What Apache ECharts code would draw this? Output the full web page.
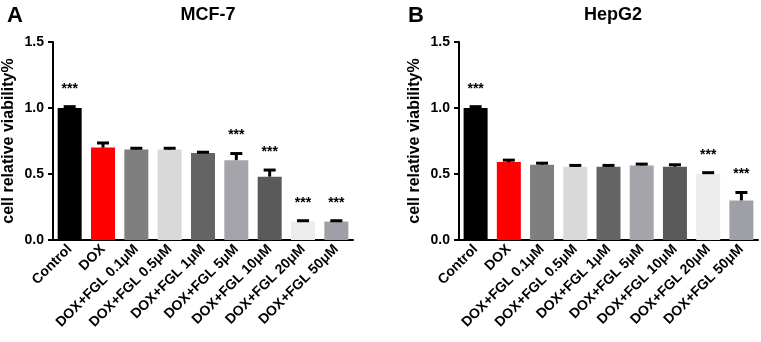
<!DOCTYPE html>
<html>
<head>
<meta charset="utf-8">
<script src="https://cdn.jsdelivr.net/npm/echarts@6/dist/echarts.min.js"></script>
<style>
  html, body { margin: 0; padding: 0; background: #fff; }
  #chart { width: 761px; height: 342px; }
</style>
</head>
<body>
<div id="chart"></div>
<script>
// categories shared by both panels
const categories = ['Control', 'DOX', 'DOX+FGL 0.1μM', 'DOX+FGL 0.5μM', 'DOX+FGL 1μM',
    'DOX+FGL 5μM', 'DOX+FGL 10μM', 'DOX+FGL 20μM', 'DOX+FGL 50μM'];

// MCF-7 panel
const mcfValues = [1.00, 0.70, 0.685, 0.685, 0.66, 0.605, 0.48, 0.14, 0.14];
const mcfErrors = [0.01, 0.035, 0.01, 0.01, 0.005, 0.05, 0.05, 0.006, 0.006];
const mcfStars = ['***', '', '', '', '', '***', '***', '***', '***'];

// HepG2 panel
const hepValues = [1.00, 0.59, 0.57, 0.555, 0.555, 0.565, 0.555, 0.50, 0.30];
const hepErrors = [0.01, 0.015, 0.012, 0.01, 0.01, 0.01, 0.015, 0.01, 0.06];
const hepStars = ['***', '', '', '', '', '', '', '***', '***'];

const barColors = ['#000000', '#ff0000', '#7f7f7f', '#d9d9d9', '#646464',
    '#a4a4aa', '#5a5a5a', '#ececec', '#9f9fa7'];

const yMin = 0, yMax = 1.5, yStep = 0.5;

const fontFamily = '"Liberation Sans", Arial, sans-serif';

const chart = echarts.init(document.getElementById('chart'));

// error bar (upper half only) + significance stars
function errorBar(params, api) {
    const idx = api.value(0);
    const v = api.value(1);
    const e = api.value(2);
    const star = params.seriesIndex === 1 ? mcfStars[idx] : hepStars[idx];
    const base = api.coord([idx, v]);
    const top = api.coord([idx, v + e]);
    const children = [
        {type: 'line', shape: {x1: base[0], y1: base[1], x2: top[0], y2: top[1]},
            style: {stroke: '#000', lineWidth: 3}},
        {type: 'line', shape: {x1: top[0] - 6, y1: top[1], x2: top[0] + 6, y2: top[1]},
            style: {stroke: '#000', lineWidth: 3}}
    ];
    if (star) {
        children.push({
            type: 'text',
            style: {
                text: star, x: top[0], y: top[1] - 18, align: 'center', verticalAlign: 'middle',
                fill: '#000', font: 'bold 14px ' + fontFamily
            }
        });
    }
    return {type: 'group', children: children};
}

function barData(values) {
    return values.map((v, i) => ({value: v, itemStyle: {color: barColors[i]}}));
}

function errData(values, errors) {
    return values.map((v, i) => [i, v, errors[i]]);
}

function xAxisFor(gridIndex) {
    return {
        type: 'category',
        gridIndex: gridIndex,
        data: categories,
        axisLine: {lineStyle: {color: '#000', width: 2}},
        axisTick: {alignWithLabel: true, length: 5, lineStyle: {color: '#000', width: 2}},
        axisLabel: {
            rotate: 45, interval: 0, margin: 7, color: '#000',
            fontSize: 14, fontWeight: 'bold', fontFamily: fontFamily
        }
    };
}

function yAxisFor(gridIndex) {
    return {
        type: 'value',
        gridIndex: gridIndex,
        min: yMin, max: yMax, interval: yStep,
        name: 'cell relative viability%',
        nameLocation: 'middle',
        nameGap: 36,
        nameTextStyle: {color: '#000', fontSize: 16, fontWeight: 'bold', fontFamily: fontFamily, padding: [0, 0, 0, 0]},
        splitLine: {show: false},
        axisLine: {show: true, lineStyle: {color: '#000', width: 2}},
        axisTick: {show: true, length: 5, lineStyle: {color: '#000', width: 2}},
        axisLabel: {
            margin: 9, color: '#000', fontSize: 14, fontWeight: 'bold', fontFamily: fontFamily,
            formatter: v => v.toFixed(1)
        }
    };
}

const option = {
    backgroundColor: '#fff',
    animation: false,
    title: [
        {text: 'A', left: 2, top: 0, textStyle: {fontSize: 22, fontWeight: 'bold', color: '#000', fontFamily: fontFamily}},
        {text: 'MCF-7', left: 203, top: 1, textAlign: 'center', textStyle: {fontSize: 18, fontWeight: 'bold', color: '#000', fontFamily: fontFamily}},
        {text: 'B', left: 403, top: 0, textStyle: {fontSize: 22, fontWeight: 'bold', color: '#000', fontFamily: fontFamily}},
        {text: 'HepG2', left: 608, top: 1, textAlign: 'center', textStyle: {fontSize: 18, fontWeight: 'bold', color: '#000', fontFamily: fontFamily}}
    ],
    grid: [
        {left: 53, top: 42, width: 300, height: 198},
        {left: 459, top: 42, width: 299, height: 198}
    ],
    xAxis: [xAxisFor(0), xAxisFor(1)],
    yAxis: [yAxisFor(0), yAxisFor(1)],
    series: [
        {type: 'bar', xAxisIndex: 0, yAxisIndex: 0, barWidth: 24, data: barData(mcfValues), z: 2},
        {type: 'custom', xAxisIndex: 0, yAxisIndex: 0, renderItem: errorBar, data: errData(mcfValues, mcfErrors), z: 3},
        {type: 'bar', xAxisIndex: 1, yAxisIndex: 1, barWidth: 24, data: barData(hepValues), z: 2},
        {type: 'custom', xAxisIndex: 1, yAxisIndex: 1, renderItem: errorBar, data: errData(hepValues, hepErrors), z: 3}
    ]
};

chart.setOption(option);
</script>
</body>
</html>
